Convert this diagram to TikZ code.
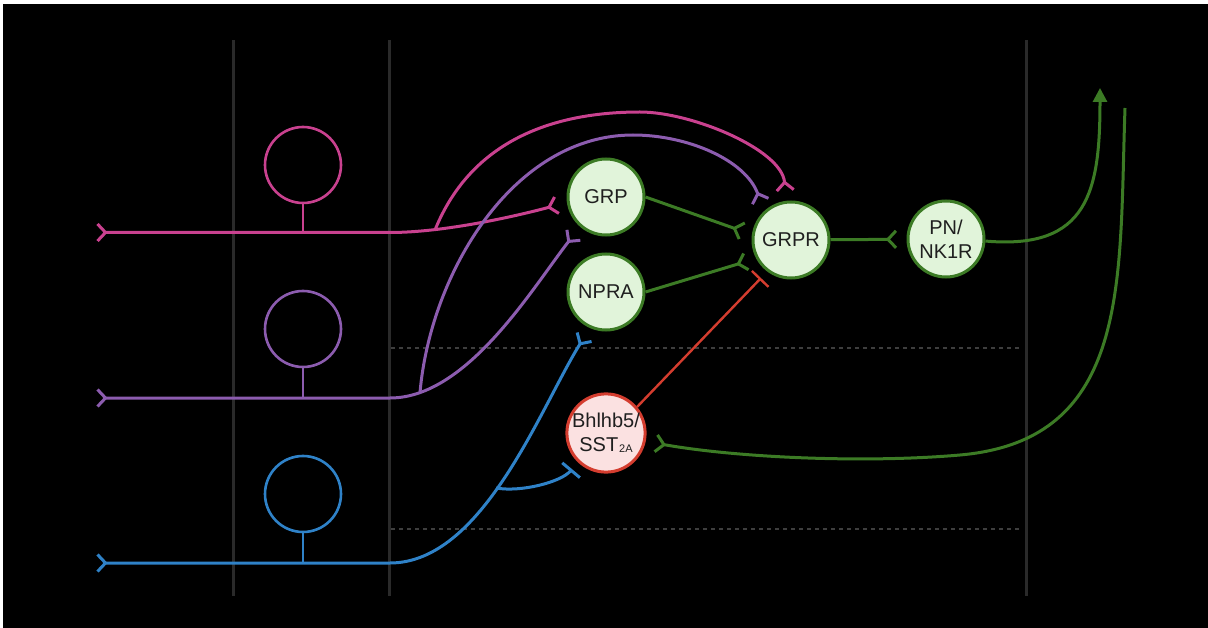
\documentclass[tikz,border=0pt]{standalone}
\usepackage{fontspec}
\setmainfont{Liberation Sans}
\usetikzlibrary{arrows.meta,calc,positioning}
\definecolor{pinkax}{HTML}{C9418F}
\definecolor{purpax}{HTML}{8C5CAF}
\definecolor{blueax}{HTML}{2F82C8}
\definecolor{greenax}{HTML}{3C7B25}
\definecolor{redax}{HTML}{D43D2F}
\definecolor{grnfill}{HTML}{E1F4DA}
\definecolor{redfill}{HTML}{FBE1E1}
\definecolor{lamina}{HTML}{2A2A2A}
\definecolor{dashgray}{HTML}{3E3E3E}
\tikzset{
	syn/.tip={Straight Barb[reversed,length=8pt,width=17pt]},
	block/.tip={Bar[width=23pt]},
	circuit map/.style={
		x=1pt, y=-1pt,
		line width=3pt,
		font=\fontsize{20}{24}\selectfont,
		exc/.style={-syn, shorten >=9pt},
		inh/.style={-block, shorten >=9pt},
		axon/.style={syn-syn, shorten >=9pt}},
	hub/.style={circle, draw=greenax, fill=grnfill, line width=3pt,
		minimum size=76pt, inner sep=0pt, align=center, text=black!88},
	hub red/.style={hub, draw=redax, fill=redfill},
	cell/.style={circle, draw=#1, line width=2.6pt, minimum size=76pt, inner sep=0pt}
}

\begin{document}
\begin{tikzpicture}[circuit map]
	\fill[white] (0,0) rectangle (1208,628);
	\fill[black] (3,4) rectangle (1208,628);
	% laminae
	\foreach \x in {233.5,389,1026}
		\draw[lamina] (\x,40) -- (\x,596);
	\foreach \y in {348,529}
		\draw[dashgray, line width=1.3pt, dash pattern=on 4pt off 4pt] (391,\y) -- (1022,\y);

	\node[hub] (grp) at (606,197) {GRP};
	\node[hub] (npra) at (606,292) {NPRA};
	\node[hub] (grpr) at (791,240) {GRPR};
	\node[hub] (pn) at (946,239) {PN/\\NK1R};
	\node[hub red] (bhl) at (606,433) {Bhlhb5/\\SST\kern1pt\raisebox{-1pt}{\fontsize{11}{11}\selectfont 2A}};

	\node[cell=pinkax] (c1) at (303,165) {};
	\node[cell=purpax] (c2) at (303,329) {};
	\node[cell=blueax] (c3) at (303,494) {};

	\coordinate (in1) at (96,232.5);  \coordinate (j1) at (390,232.5);
	\coordinate (s1) at (303,232.5);  \coordinate (k1) at (435,230);
	\coordinate (top1) at (640,112);
	\coordinate (in2) at (96,398);    \coordinate (j2) at (390,398);
	\coordinate (s2) at (303,398);    \coordinate (k2) at (420,392.5);
	\coordinate (top2) at (633,135);
	\coordinate (in3) at (96,563);    \coordinate (j3) at (390,563);
	\coordinate (s3) at (303,563);    \coordinate (k3) at (496,488);
	\coordinate (ascend) at (1100,88);
	\coordinate (descend) at (1125,108);
	\coordinate (sweep) at (960,455);

	% primary afferents
	\draw[pinkax, axon] (in1) -- (j1) to[out=0,in=195,looseness=.77] (grp.188);
	\draw[pinkax, line width=2.6pt] (c1) -- (s1);
	\draw[pinkax, exc] (k1) to[out=68,in=180,looseness=1] (top1) to[out=0,in=95,looseness=.77] (grpr.97);
	\draw[purpax, axon] (in2) -- (j2) to[out=0,in=232,looseness=.77] (grp.229);
	\draw[purpax, line width=2.6pt] (c2) -- (s2);
	\draw[purpax, exc] (k2) to[out=85,in=180,looseness=.92] (top2) to[out=0,in=110,looseness=.92] (grpr.133);
	\draw[blueax, axon] (in3) -- (j3) to[out=0,in=238,looseness=.77] (npra.246);
	\draw[blueax, line width=2.6pt] (c3) -- (s3);
	\draw[blueax, inh] (k3) to[out=-10,in=230,looseness=.77] (bhl.226);

	% dorsal horn
	\draw[redax, inh, line width=2.4pt] (bhl.40) -- (grpr.233);
	\draw[greenax, exc] (grp.0) -- (grpr.172);
	\draw[greenax, exc] (npra.0) -- (grpr.208);
	\draw[greenax, exc] (grpr) -- (pn);
	\draw[greenax, -{Triangle[length=14pt,width=14pt]}] (pn.-3) to[out=-5,in=-90,looseness=1.38] (ascend);
	\draw[greenax, exc] (descend) to[out=-92,in=5,looseness=1.15] (sweep) to[out=185,in=-10,looseness=.77] (bhl.-12);
\end{tikzpicture}
\end{document}
